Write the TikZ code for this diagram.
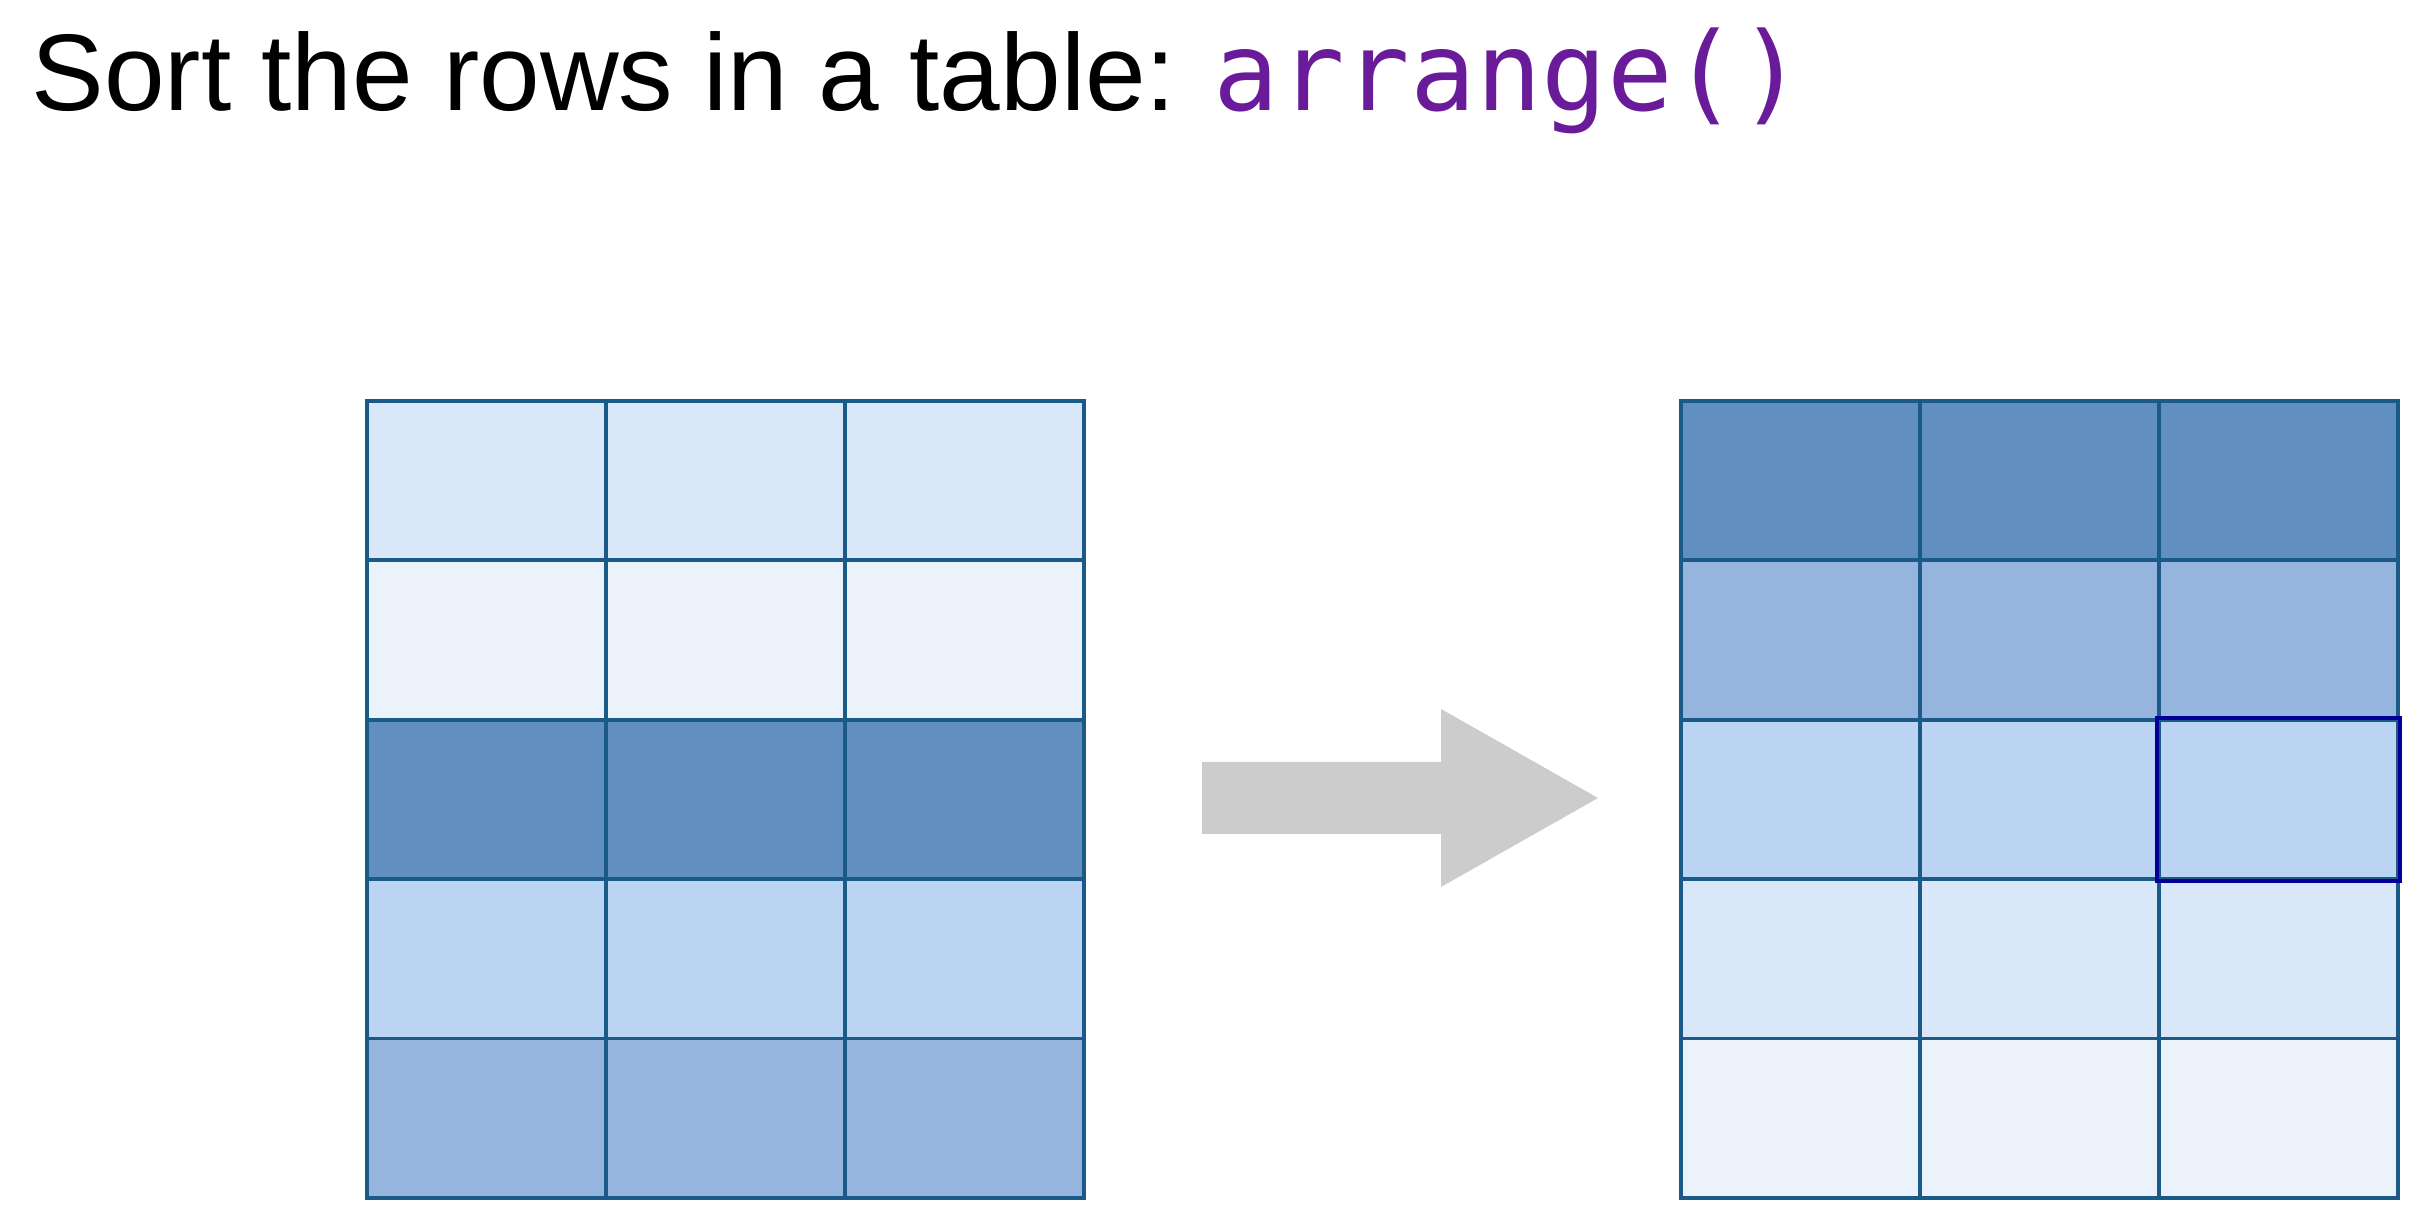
\documentclass[tikz,border=0pt]{standalone}
\usepackage{fontspec}
\setmainfont{Liberation Sans}
\newfontfamily\codefont{DejaVu Sans Mono}
\usetikzlibrary{positioning}
\definecolor{shadeA}{HTML}{EBF2FC}
\definecolor{shadeB}{HTML}{D9E7F9}
\definecolor{shadeC}{HTML}{BCD4F4}
\definecolor{shadeD}{HTML}{95B5DE}
\definecolor{shadeE}{HTML}{608FC0}
\definecolor{gridblue}{HTML}{1A5A88}
\definecolor{navyline}{HTML}{000099}
\definecolor{codepurple}{HTML}{6A1B9A}
\definecolor{arrowgray}{HTML}{CCCCCC}

\begin{document}
\begin{tikzpicture}[
  cell/.style={draw=gridblue, line width=1.1pt, minimum width=2.39cm,
    minimum height=1.594cm, inner sep=0pt, anchor=north west},
  headline/.style={font=\fontsize{31}{36}\selectfont, inner sep=0pt, anchor=base west}
]
  \useasboundingbox (0,0) rectangle (24.2,12.16);

  % ── Title ──
  \node[headline] (title) at (0.31, 11.05) {Sort the rows in a table:};
  \node[headline, font=\fontsize{31}{36}\selectfont\codefont, text=codepurple,
    right=0.36cm of title.base east, anchor=base west] (code) {arrange()};

  % Unsorted table (left)
  \foreach \shade [count=\r] in {shadeB,shadeA,shadeE,shadeC,shadeD} {
    \foreach \c in {1,2,3} {
      \node[cell, fill=\shade] (L-\r-\c) at ({3.65+(\c-1)*2.39}, {8.17-(\r-1)*1.594}) {};
    }
  }

  % Sorted table (right)
  \foreach \shade [count=\r] in {shadeE,shadeD,shadeC,shadeB,shadeA} {
    \foreach \c in {1,2,3} {
      \node[cell, fill=\shade] (R-\r-\c) at ({16.79+(\c-1)*2.39}, {8.17-(\r-1)*1.594}) {};
    }
  }
  \draw[navyline, line width=1.1pt] (R-3-3.north west) rectangle (R-3-3.south east);

  % Arrow between tables
  \coordinate (tail) at (12.02, 4.18);
  \coordinate (tip) at (15.98, 4.18);
  \fill[arrowgray] ([yshift=0.36cm]tail) -- (14.41, 4.54) -- (14.41, 5.07) -- (tip)
    -- (14.41, 3.29) -- (14.41, 3.82) -- ([yshift=-0.36cm]tail) -- cycle;

\end{tikzpicture}
\end{document}
